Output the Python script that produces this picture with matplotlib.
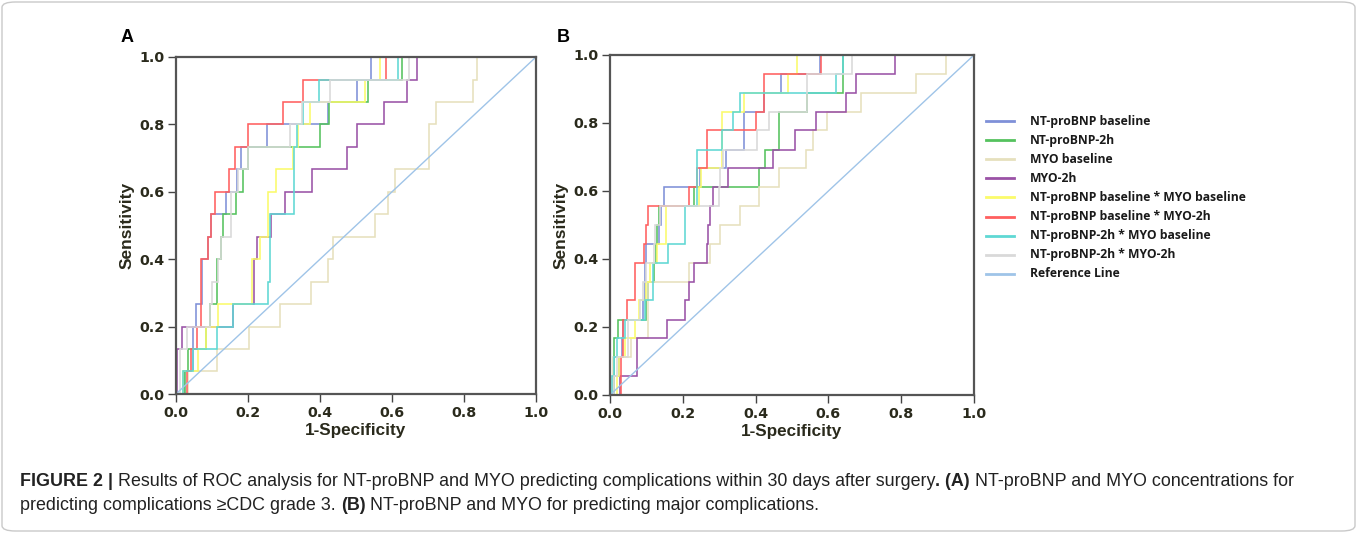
import matplotlib
matplotlib.use("Agg")
import matplotlib.pyplot as plt
from matplotlib.lines import Line2D
from matplotlib.patches import FancyBboxPatch

# ---- data (1-specificity where sensitivity rises, sensitivity after the rise)
series_names = ["NT-proBNP baseline", "NT-proBNP-2h", "MYO baseline", "MYO-2h",
                "NT-proBNP baseline * MYO baseline", "NT-proBNP baseline * MYO-2h",
                "NT-proBNP-2h * MYO baseline", "NT-proBNP-2h * MYO-2h"]
series_colors = ["#7f90d8", "#55c25e", "#e6e0bd", "#9a52a6",
                 "#fbfb6a", "#ff5f5f", "#5fd8d4", "#d9d9d9"]
ref_color = "#9fc4e8"

# panel A (complications >= CDC grade 3)
a_fpr = [
    [0.022, 0.048, 0.055, 0.071, 0.088, 0.096, 0.139, 0.17, 0.181, 0.252, 0.423, 0.502, 0.541],
    [0.025, 0.032, 0.083, 0.094, 0.113, 0.125, 0.131, 0.166, 0.185, 0.2, 0.4, 0.424, 0.534, 0.627],
    [0.034, 0.113, 0.203, 0.289, 0.374, 0.423, 0.437, 0.553, 0.59, 0.608, 0.704, 0.722, 0.824, 0.837],
    [0.004, 0.016, 0.157, 0.217, 0.224, 0.263, 0.304, 0.379, 0.476, 0.504, 0.578, 0.643, 0.669],
    [0.02, 0.062, 0.083, 0.118, 0.21, 0.233, 0.255, 0.277, 0.324, 0.34, 0.372, 0.525, 0.567],
    [0.03, 0.043, 0.059, 0.069, 0.09, 0.098, 0.108, 0.148, 0.164, 0.201, 0.298, 0.352, 0.583],
    [0.02, 0.046, 0.115, 0.157, 0.256, 0.261, 0.328, 0.337, 0.354, 0.397, 0.616],
    [0.012, 0.03, 0.094, 0.1, 0.118, 0.125, 0.152, 0.171, 0.2, 0.317, 0.35, 0.428, 0.648],
]
a_tpr = [
    [0.067, 0.2, 0.267, 0.4, 0.467, 0.533, 0.6, 0.667, 0.733, 0.8, 0.867, 0.933, 1.0],
    [0.067, 0.133, 0.2, 0.267, 0.4, 0.467, 0.533, 0.6, 0.667, 0.733, 0.8, 0.867, 0.933, 1.0],
    [0.067, 0.133, 0.2, 0.267, 0.333, 0.4, 0.467, 0.533, 0.6, 0.667, 0.8, 0.867, 0.933, 1.0],
    [0.133, 0.2, 0.267, 0.4, 0.467, 0.533, 0.6, 0.667, 0.733, 0.8, 0.867, 0.933, 1.0],
    [0.067, 0.133, 0.2, 0.267, 0.4, 0.467, 0.6, 0.667, 0.733, 0.8, 0.867, 0.933, 1.0],
    [0.067, 0.133, 0.2, 0.4, 0.467, 0.533, 0.6, 0.667, 0.733, 0.8, 0.867, 0.933, 1.0],
    [0.067, 0.133, 0.2, 0.267, 0.333, 0.533, 0.733, 0.8, 0.867, 0.933, 1.0],
    [0.133, 0.2, 0.267, 0.333, 0.4, 0.467, 0.6, 0.667, 0.733, 0.8, 0.867, 0.933, 1.0],
]

# panel B (major complications)
b_fpr = [
    [0.008, 0.025, 0.032, 0.035, 0.09, 0.095, 0.1, 0.135, 0.14, 0.147, 0.247, 0.32, 0.368, 0.423, 0.469, 0.577],
    [0.011, 0.023, 0.099, 0.105, 0.12, 0.125, 0.128, 0.134, 0.232, 0.408, 0.427, 0.463, 0.54, 0.639],
    [0.009, 0.058, 0.105, 0.218, 0.275, 0.302, 0.357, 0.408, 0.463, 0.538, 0.557, 0.595, 0.689, 0.841, 0.923],
    [0.027, 0.075, 0.156, 0.206, 0.216, 0.23, 0.266, 0.27, 0.275, 0.282, 0.325, 0.449, 0.508, 0.566, 0.648, 0.676, 0.784],
    [0.018, 0.025, 0.04, 0.07, 0.08, 0.1, 0.11, 0.13, 0.155, 0.245, 0.25, 0.307, 0.368, 0.49, 0.513],
    [0.03, 0.035, 0.046, 0.069, 0.094, 0.098, 0.104, 0.218, 0.238, 0.266, 0.40, 0.424, 0.581],
    [0.005, 0.011, 0.02, 0.04, 0.095, 0.119, 0.158, 0.206, 0.24, 0.307, 0.339, 0.357, 0.621, 0.639],
    [0.01, 0.02, 0.05, 0.082, 0.09, 0.1, 0.12, 0.124, 0.136, 0.3, 0.302, 0.31, 0.405, 0.438, 0.54, 0.664],
]
b_tpr = [
    [0.056, 0.111, 0.167, 0.222, 0.278, 0.389, 0.444, 0.5, 0.556, 0.611, 0.667, 0.722, 0.833, 0.889, 0.944, 1.0],
    [0.167, 0.222, 0.278, 0.333, 0.389, 0.444, 0.5, 0.556, 0.611, 0.667, 0.722, 0.833, 0.889, 1.0],
    [0.111, 0.167, 0.333, 0.389, 0.444, 0.5, 0.556, 0.611, 0.667, 0.722, 0.778, 0.833, 0.889, 0.944, 1.0],
    [0.056, 0.167, 0.222, 0.278, 0.333, 0.389, 0.444, 0.5, 0.556, 0.611, 0.667, 0.722, 0.778, 0.833, 0.889, 0.944, 1.0],
    [0.056, 0.111, 0.167, 0.222, 0.278, 0.333, 0.389, 0.444, 0.556, 0.611, 0.667, 0.833, 0.889, 0.944, 1.0],
    [0.111, 0.222, 0.278, 0.389, 0.444, 0.5, 0.556, 0.611, 0.667, 0.778, 0.833, 0.944, 1.0],
    [0.056, 0.111, 0.167, 0.222, 0.278, 0.389, 0.444, 0.556, 0.722, 0.778, 0.833, 0.889, 0.944, 1.0],
    [0.056, 0.111, 0.222, 0.278, 0.333, 0.389, 0.444, 0.5, 0.556, 0.611, 0.667, 0.722, 0.778, 0.833, 0.944, 1.0],
]

ticks = [0.0, 0.2, 0.4, 0.6, 0.8, 1.0]
tick_labels = ["0.0", "0.2", "0.4", "0.6", "0.8", "1.0"]

W, H = 1357, 533
fig = plt.figure(figsize=(W / 100, H / 100), dpi=100)
dark = "#2a2a1c"


def px_box(x0, y0, x1, y1):
    return [x0 / W, 1 - y1 / H, (x1 - x0) / W, (y1 - y0) / H]


def roc_panel(ax, fprs, tprs):
    for fpr, tpr, color in zip(fprs, tprs, series_colors):
        ax.step([0.0] + fpr + [1.0], [0.0] + tpr + [1.0], where="post",
                color=color, lw=1.15, solid_joinstyle="miter")
    ax.plot([0, 1], [0, 1], color=ref_color, lw=1.0)
    ax.set_xlim(0, 1)
    ax.set_ylim(0, 1)
    ax.set_xticks(ticks)
    ax.set_yticks(ticks)
    ax.set_xticklabels(tick_labels)
    ax.set_yticklabels(tick_labels)
    for lab in ax.get_xticklabels() + ax.get_yticklabels():
        lab.set_fontweight("bold")
        lab.set_fontsize(10.3)
        lab.set_color(dark)
    ax.tick_params(direction="out", length=5.5, width=1.0, color="#444444", pad=3)
    for sp in ax.spines.values():
        sp.set_linewidth(1.6)
        sp.set_color("#555555")
    ax.set_xlabel("1-Specificity", fontsize=12.3, fontweight="bold",
                  family="Liberation Sans", color=dark, labelpad=2)
    ax.set_ylabel("Sensitivity", fontsize=12.5, fontweight="bold",
                  family="Liberation Sans", color=dark, labelpad=3)


ax_a = fig.add_axes(px_box(176, 57, 536, 394))
roc_panel(ax_a, a_fpr, a_tpr)
ax_b = fig.add_axes(px_box(610, 55, 974, 395))
roc_panel(ax_b, b_fpr, b_tpr)

fig.text(121 / W, 1 - 38 / H, "A", fontsize=13, fontweight="bold",
         family="Liberation Sans", va="center", ha="left")
fig.text(557 / W, 1 - 37 / H, "B", fontsize=13, fontweight="bold",
         family="Liberation Sans", va="center", ha="left")

# legend, drawn by hand next to panel B
leg_names = series_names + ["Reference Line"]
leg_colors = series_colors + [ref_color]
for i, (name, color) in enumerate(zip(leg_names, leg_colors)):
    y = 1 - (121 + i * 19.1) / H
    fig.add_artist(Line2D([986 / W, 1014 / W], [y, y], color=color, lw=2.0,
                          transform=fig.transFigure))
    fig.text(1030 / W, y, name, fontsize=8.7, fontweight="bold",
             family="Open Sans", va="center", ha="left", color="#1a1a1a")

# caption with bold runs
cap_family, cap_size = "Liberation Sans", 12.9
caption_lines = [
    [("FIGURE 2 |", "bold"),
     (" Results of ROC analysis for NT-proBNP and MYO predicting complications within 30 days after surgery", "normal"),
     (". (A)", "bold"),
     (" NT-proBNP and MYO concentrations for", "normal")],
    [("predicting complications \u2265CDC grade 3. ", "normal"),
     ("(B)", "bold"),
     (" NT-proBNP and MYO for predicting major complications.", "normal")],
]
caption_y = [481, 506]

fig.canvas.draw()
renderer = fig.canvas.get_renderer()
for runs, ypx in zip(caption_lines, caption_y):
    x = 20 / W
    for txt, weight in runs:
        t = fig.text(x, 1 - ypx / H, txt, fontsize=cap_size, fontweight=weight,
                     family=cap_family, va="center", ha="left", color="#222222")
        bb = t.get_window_extent(renderer=renderer)
        x += bb.width / W

frame = FancyBboxPatch((2 / W, 2 / H), 1 - 4 / W, 1 - 4 / H,
                       boxstyle="round,pad=0,rounding_size=0.01",
                       transform=fig.transFigure, fill=False,
                       edgecolor="#c9c9c9", lw=1.0)
fig.add_artist(frame)

fig.savefig("out.png", dpi=100)
